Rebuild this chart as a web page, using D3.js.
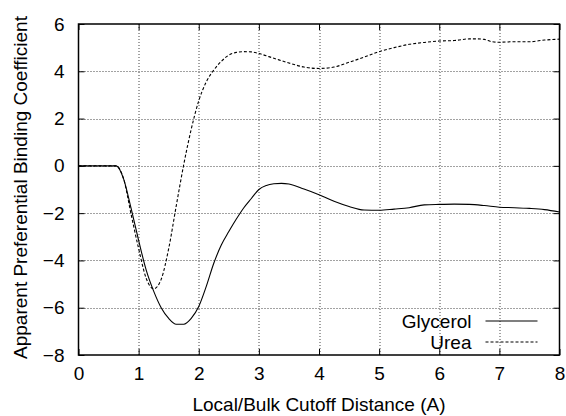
<!DOCTYPE html>
<html lang="en">
<head>
<meta charset="utf-8">
<title>Preferential binding</title>
<script src="https://d3js.org/d3.v7.min.js"></script>
<style>
  body { margin: 0; padding: 0; background: #fff; }
  svg text { font-family: "Liberation Sans", Arial, sans-serif; fill: #000; }
</style>
</head>
<body>
<div id="root"></div>
<script>
// cutoff distance (A) and coefficients
var glycerolX = [0, 0.625, 0.75, 0.875, 1.0, 1.125, 1.25, 1.375, 1.5, 1.625, 1.75, 1.875, 2.0, 2.125, 2.25, 2.375, 2.5, 2.625, 2.75, 2.875, 3.0, 3.125, 3.25, 3.375, 3.5, 3.75, 4.0, 4.25, 4.5, 4.75, 5.0, 5.25, 5.5, 5.75, 6.0, 6.25, 6.5, 6.75, 7.0, 7.25, 7.5, 7.75, 8.0];
var glycerolY = [0, 0, -0.55, -1.8, -3.15, -4.4, -5.3, -6.0, -6.45, -6.7, -6.7, -6.45, -5.95, -5.1, -4.12, -3.35, -2.78, -2.25, -1.77, -1.38, -1.0, -0.83, -0.76, -0.74, -0.77, -0.98, -1.22, -1.5, -1.72, -1.87, -1.88, -1.83, -1.77, -1.65, -1.63, -1.62, -1.63, -1.68, -1.75, -1.77, -1.8, -1.85, -1.95];

var ureaX = [0, 0.625, 0.75, 0.875, 1.0, 1.125, 1.25, 1.375, 1.5, 1.625, 1.75, 1.875, 2.0, 2.125, 2.25, 2.375, 2.5, 2.625, 2.75, 2.875, 3.0, 3.25, 3.5, 3.75, 4.0, 4.25, 4.5, 4.75, 5.0, 5.25, 5.5, 5.75, 6.0, 6.25, 6.5, 6.625, 6.75, 6.875, 7.0, 7.25, 7.5, 7.75, 8.0];
var ureaY = [0, 0, -0.55, -2.05, -3.5, -4.75, -5.2, -4.8, -3.5, -1.7, 0.05, 1.55, 2.75, 3.55, 4.05, 4.42, 4.68, 4.8, 4.83, 4.82, 4.75, 4.55, 4.35, 4.18, 4.12, 4.18, 4.38, 4.6, 4.83, 5.0, 5.14, 5.22, 5.28, 5.3, 5.37, 5.37, 5.35, 5.25, 5.23, 5.25, 5.25, 5.32, 5.36];

var xTicks = [0, 1, 2, 3, 4, 5, 6, 7, 8];
var yTicks = [-8, -6, -4, -2, 0, 2, 4, 6];
var seriesNames = ["Glycerol", "Urea"];

var W = 566, H = 416;
var margin = {top: 24, right: 6.5, bottom: 61, left: 78.5};
var w = W - margin.left - margin.right, h = H - margin.top - margin.bottom;
var fs = "19px";

var svg = d3.select("#root").append("svg")
    .attr("width", W)
    .attr("height", H);

var g = svg.append("g")
    .attr("transform", "translate(" + margin.left + "," + margin.top + ")");

var x = d3.scaleLinear().domain([0, 8]).range([0, w]);
var y = d3.scaleLinear().domain([-8, 6]).range([h, 0]);

// dotted grid
g.append("g").selectAll("line")
  .data(xTicks.slice(1, -1))
  .enter().append("line")
    .attr("x1", function(d) { return Math.round(x(d)) + 0.5; })
    .attr("x2", function(d) { return Math.round(x(d)) + 0.5; })
    .attr("y1", 0).attr("y2", h)
    .attr("stroke", "#444").attr("stroke-width", 1)
    .attr("stroke-dasharray", "1,2");
g.append("g").selectAll("line")
  .data(yTicks.slice(1, -1))
  .enter().append("line")
    .attr("y1", function(d) { return Math.round(y(d)) + 0.5; })
    .attr("y2", function(d) { return Math.round(y(d)) + 0.5; })
    .attr("x1", 0).attr("x2", w)
    .attr("stroke", "#444").attr("stroke-width", 1)
    .attr("stroke-dasharray", "1,2");

// axes, ticks pointing inwards on all four sides
var xAxis = g.append("g")
    .attr("transform", "translate(0," + h + ")")
    .call(d3.axisBottom(x).tickValues(xTicks).tickSizeInner(-6).tickSizeOuter(0).tickPadding(12));
var xTop = g.append("g")
    .call(d3.axisTop(x).tickValues(xTicks).tickSizeInner(-6).tickSizeOuter(0).tickFormat(""));
var yAxis = g.append("g")
    .call(d3.axisLeft(y).tickValues(yTicks).tickSizeInner(-6).tickSizeOuter(0).tickPadding(14));
var yRight = g.append("g")
    .attr("transform", "translate(" + w + ",0)")
    .call(d3.axisRight(y).tickValues(yTicks).tickSizeInner(-6).tickSizeOuter(0).tickFormat(""));

[xAxis, xTop, yAxis, yRight].forEach(function(a) {
  a.select(".domain").remove();
  a.selectAll("line").attr("stroke", "#000");
  a.selectAll("text").style("font-size", fs).attr("font-family", null);
});

g.append("rect")
    .attr("width", w).attr("height", h)
    .attr("fill", "none").attr("stroke", "#000").attr("stroke-width", 1.5);

// curves
var line = d3.line()
    .x(function(d) { return x(d[0]); })
    .y(function(d) { return y(d[1]); })
    .curve(d3.curveMonotoneX);

g.append("path")
    .datum(d3.zip(glycerolX, glycerolY))
    .attr("fill", "none").attr("stroke", "#000").attr("stroke-width", 1.1)
    .attr("d", line);

g.append("path")
    .datum(d3.zip(ureaX, ureaY))
    .attr("fill", "none").attr("stroke", "#000").attr("stroke-width", 1.1)
    .attr("stroke-dasharray", "3,2")
    .attr("d", line);

// legend
var legend = g.append("g").attr("transform", "translate(" + (w - 88) + "," + (h - 34) + ")");
legend.selectAll("g")
  .data(seriesNames)
  .enter().append("g")
    .attr("transform", function(d, i) { return "translate(0," + (i * 21) + ")"; })
    .each(function(d, i) {
      var s = d3.select(this);
      s.append("text").attr("x", 0).attr("dy", "0.35em")
        .attr("text-anchor", "end").style("font-size", fs).text(d);
      s.append("line").attr("x1", 14).attr("x2", 66)
        .attr("stroke", "#000").attr("stroke-width", 1.1)
        .attr("stroke-dasharray", i ? "3,2" : null);
    });

// axis titles
svg.append("text")
    .attr("x", margin.left + w / 2).attr("y", 411)
    .attr("text-anchor", "middle").style("font-size", fs)
    .text("Local/Bulk Cutoff Distance (A)");

svg.append("text")
    .attr("transform", "translate(27," + (margin.top + h / 2 - 2) + ") rotate(-90)")
    .attr("text-anchor", "middle").style("font-size", fs)
    .text("Apparent Preferential Binding Coefficient");
</script>
</body>
</html>
